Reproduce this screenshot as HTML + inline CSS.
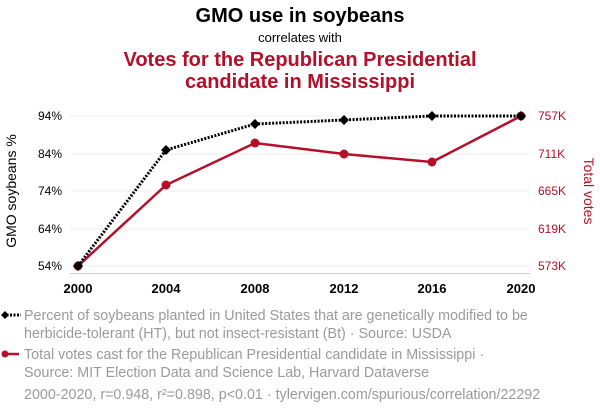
<!DOCTYPE html>
<html><head><meta charset="utf-8"><style>
body{margin:0;background:#fff;width:600px;height:414px;overflow:hidden;font-family:"Liberation Sans",sans-serif}
</style></head><body>
<svg width="600" height="414" xmlns="http://www.w3.org/2000/svg" font-family="Liberation Sans, sans-serif">
<text x="300" y="22" text-anchor="middle" font-size="20" font-weight="bold" fill="#000">GMO use in soybeans</text>
<text x="300" y="42" text-anchor="middle" font-size="13" fill="#000">correlates with</text>
<text x="300" y="66" text-anchor="middle" font-size="20" font-weight="bold" fill="#b5102a">Votes for the Republican Presidential</text>
<text x="300" y="88" text-anchor="middle" font-size="20" font-weight="bold" fill="#b5102a">candidate in Mississippi</text>
<g stroke="#eee" stroke-width="1">
<line x1="70" x2="530" y1="116" y2="116"/><line x1="70" x2="530" y1="154" y2="154"/><line x1="70" x2="530" y1="191" y2="191"/><line x1="70" x2="530" y1="229" y2="229"/><line x1="70" x2="530" y1="266" y2="266"/>
</g>
<line x1="70" x2="530" y1="273.5" y2="273.5" stroke="#ccc"/>
<g font-size="12" fill="#000" text-anchor="end">
<text x="62" y="120">94%</text><text x="62" y="158">84%</text><text x="62" y="195">74%</text><text x="62" y="233">64%</text><text x="62" y="270">54%</text>
</g>
<g font-size="12" fill="#b5102a">
<text x="538" y="120">757K</text><text x="538" y="158">711K</text><text x="538" y="195">665K</text><text x="538" y="233">619K</text><text x="538" y="270">573K</text>
</g>
<text transform="translate(16,191) rotate(-90)" text-anchor="middle" font-size="14" fill="#000">GMO soybeans %</text>
<text transform="translate(584,191) rotate(90)" text-anchor="middle" font-size="14" fill="#b5102a">Total votes</text>
<g font-size="13" font-weight="bold" text-anchor="middle" fill="#000">
<text x="78" y="293">2000</text><text x="166" y="293">2004</text><text x="255" y="293">2008</text><text x="344" y="293">2012</text><text x="432" y="293">2016</text><text x="521" y="293">2020</text>
</g>
<polyline points="78,266 166,185 255,143 344,154 432,162 521,116" fill="none" stroke="#b5102a" stroke-width="2.5"/>
<g fill="#b5102a"><circle cx="78" cy="266" r="4.5"/><circle cx="166" cy="185" r="4.5"/><circle cx="255" cy="143" r="4.5"/><circle cx="344" cy="154" r="4.5"/><circle cx="432" cy="162" r="4.5"/><circle cx="521" cy="116" r="4.5"/></g>
<polyline points="78,266 166,150 255,124 344,120 432,116 521,116" fill="none" stroke="#000" stroke-width="3" stroke-dasharray="2,1.5"/>
<g fill="#000">
<path d="M78,261 L83,266 L78,271 L73,266Z"/><path d="M166,145 L171,150 L166,155 L161,150Z"/><path d="M255,119 L260,124 L255,129 L250,124Z"/><path d="M344,115 L349,120 L344,125 L339,120Z"/><path d="M432,111 L437,116 L432,121 L427,116Z"/><path d="M521,111 L526,116 L521,121 L516,116Z"/>
</g>
<line x1="3" x2="21" y1="315" y2="315" stroke="#000" stroke-width="3" stroke-dasharray="2,1.5"/>
<path d="M5,311 L9,315 L5,319 L1,315Z" fill="#000"/>
<line x1="3" x2="19" y1="354" y2="354" stroke="#b5102a" stroke-width="2.5"/>
<circle cx="5" cy="354" r="3.5" fill="#b5102a"/>
<g font-size="14.3" fill="#9a9a9a">
<text x="24" y="320">Percent of soybeans planted in United States that are genetically modified to be</text>
<text x="24" y="338">herbicide-tolerant (HT), but not insect-resistant (Bt) · Source: USDA</text>
<text x="24" y="359">Total votes cast for the Republican Presidential candidate in Mississippi ·</text>
<text x="24" y="377">Source: MIT Election Data and Science Lab, Harvard Dataverse</text>
<text x="24" y="399">2000-2020, r=0.948, r²=0.898, p&lt;0.01 · tylervigen.com/spurious/correlation/22292</text>
</g>
</svg>
</body></html>
